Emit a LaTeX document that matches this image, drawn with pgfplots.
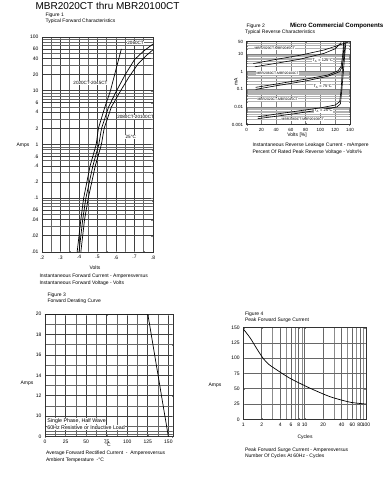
\documentclass[border=0pt]{standalone}
\usepackage{pgfplots}
\pgfplotsset{compat=1.18}
\usepackage{fontspec}
\setmainfont{Liberation Sans}
\newcommand{\fs}[1]{\fontsize{#1}{#1}\selectfont}
\pgfplotsset{
  myax/.style={
    scale only axis, anchor=north west,
    font=\fs{5},
    tick label style={font=\fs{5}},
    /pgf/number format/assume math mode=true,
    axis line style={black!80, line width=0.6pt},
    tick align=inside, major tick length=1.5pt, minor tick length=1pt,
    major grid style={draw=black!75, line width=0.7pt},
    minor grid style={draw=black!60, line width=0.55pt},
  },
}
\begin{document}
\begin{tikzpicture}
\path[use as bounding box] (0,0) rectangle (385pt,-488pt);
% title
\node[anchor=west, font=\fs{10}] at (32pt,-5.5pt) {MBR2020CT thru MBR20100CT};

% ---------------- Figure 1 ----------------
\node[anchor=west, font=\fs{5}] at (42pt,-15pt) {Figure 1};
\node[anchor=west, font=\fs{5}] at (42pt,-21.5pt) {Typical Forward Characteristics};
\node[font=\fs{5}] at (23pt,-145pt) {Amps};
\node[font=\fs{5}] at (95pt,-268pt) {Volts};
\node[anchor=west, font=\fs{5}] at (36pt,-276pt) {Instantaneous Forward Current - Amperesversus};
\node[anchor=west, font=\fs{5}] at (36pt,-283pt) {Instantaneous Forward Voltage - Volts};
\begin{axis}[myax, at={(42pt,-37pt)}, width=111pt, height=215pt,
  xmin=0.2, xmax=0.8, ymode=log, ymin=0.01, ymax=100,
  xtick={0.2,0.3,0.4,0.5,0.6,0.7,0.8}, xticklabels={.2,.3,.4,.5,.6,.7,.8},
  minor xtick={0.25,0.35,0.45,0.55,0.65,0.75},
  ytick={0.01,0.02,0.04,0.06,0.1,0.2,0.4,0.6,1,2,4,6,10,20,40,60,100},
  yticklabels={.01,.02,.04,.06,.1,.2,.4,.6,1,2,4,6,10,20,40,60,100},
  minor ytick={0.03,0.05,0.07,0.08,0.09,0.3,0.5,0.7,0.8,0.9,3,5,7,8,9,30,50,70,80,90},
  grid=both]
\addplot[black, line width=0.7pt] coordinates {(0.39,0.01)(0.41,0.04)(0.425,0.1)(0.46,0.4)(0.493,1)(0.505,2)(0.54,5)(0.57,10)(0.6,25)(0.629,60)};
\addplot[black, line width=0.7pt] coordinates {(0.40,0.01)(0.42,0.04)(0.437,0.1)(0.475,0.4)(0.507,1)(0.522,2)(0.56,5)(0.603,10)(0.65,20)(0.70,38)(0.75,55)(0.80,74)};
\addplot[black, line width=0.7pt] coordinates {(0.41,0.01)(0.43,0.04)(0.45,0.1)(0.488,0.4)(0.521,1)(0.536,2)(0.575,5)(0.625,10)(0.67,18)(0.72,32)(0.76,44)(0.80,58)};
\node[fill=white, inner sep=0.4pt, font=\fs{4.6}] at (axis cs:0.706,76) {2060CT};
\node[fill=white, inner sep=0.4pt, font=\fs{4.6}] at (axis cs:0.462,14) {2020CT-2045CT};
\node[fill=white, inner sep=0.4pt, font=\fs{4.6}] at (axis cs:0.706,3.2) {2080CT-20100CT};
\node[fill=white, inner sep=0.4pt, font=\fs{4.6}] at (axis cs:0.68,1.4) {25\textdegree C};
\end{axis}

% ---------------- Figure 2 ----------------
\node[anchor=west, font=\fs{5}] at (243pt,-26pt) {Figure 2};
\node[anchor=west, font=\fs{5}] at (241.5pt,-32.5pt) {Typical Reverse Characteristics};
\node[anchor=west, font=\fs{6.2}\bfseries] at (286.5pt,-26pt) {Micro Commercial Components};
\node[font=\fs{5}, rotate=90] at (236pt,-82pt) {mA};
\node[font=\fs{5}] at (297pt,-135pt) {Volts [\%]};
\node[anchor=west, font=\fs{5}] at (249pt,-145pt) {Instantaneous Reverse Leakage Current - mAmpere};
\node[anchor=west, font=\fs{5}] at (249pt,-152pt) {Percent Of Rated Peak Reverse Voltage - Volts\%};
\begin{axis}[myax, at={(246.7pt,-41.7pt)}, width=103.3pt, height=83pt,
  xmin=0, xmax=140, xtick={0,20,40,60,80,100,120,140},
  ymode=log, ymin=0.001, ymax=50,
  ytick={0.001,0.01,0.1,1,10,50}, yticklabels={0.001,0.01,0.1,1,10,50},
  minor ytick={0.002,0.003,0.004,0.005,0.006,0.007,0.008,0.009,0.02,0.03,0.04,0.05,0.06,0.07,0.08,0.09,0.2,0.3,0.4,0.5,0.6,0.7,0.8,0.9,2,3,4,5,6,7,8,9,20,30,40},
  tick label style={font=\fs{4.5}},
  xmajorgrids, ymajorgrids, yminorgrids,
  major grid style={draw=black!50, line width=0.6pt},
  minor grid style={draw=black!30, line width=0.8pt}]
\addplot[black, line width=0.6pt] coordinates {(9,2.9)(40,5)(72,8.5)(105,17)(138,48)};
\addplot[black, line width=0.6pt] coordinates {(11,1.9)(40,3)(72,5.1)(105,11)(120,20)(128,45)};
\addplot[black, line width=0.6pt] coordinates {(12,0.13)(40,0.2)(80,0.38)(110,0.65)(124,1.15)(128,2)(130,8)(131.5,50)};
\addplot[black, line width=0.6pt] coordinates {(12,0.1)(40,0.16)(80,0.3)(110,0.55)(126,1)(129.5,2)(132,8)(133.5,50)};
\addplot[black, line width=0.6pt] coordinates {(15,0.0028)(40,0.004)(70,0.006)(100,0.009)(120,0.013)(126,0.02)(128,0.1)(129.5,1)(131,10)(132,50)};
\addplot[black, line width=0.6pt] coordinates {(15,0.0022)(40,0.003)(70,0.0045)(100,0.007)(122,0.01)(127,0.015)(129,0.1)(131,1)(133,10)(134.5,50)};
\node[fill=white, inner sep=0.4pt, font=\fs{3.4}] at (axis cs:38,21) {MBR2020CT-MBR2045CT};
\node[fill=white, inner sep=0.4pt, font=\fs{3.4}] at (axis cs:42,0.85) {MBR2060CT-MBR20100CT};
\node[fill=white, inner sep=0.4pt, font=\fs{3.4}] at (axis cs:42,0.027) {MBR2020CT-MBR2045CT};
\node[fill=white, inner sep=0.4pt, font=\fs{3.4}] at (axis cs:76,0.0019) {MBR2060CT-MBR20100CT};
\node[fill=white, inner sep=0.4pt, font=\fs{4}] at (axis cs:103,4.5) {T$_\mathrm{A}$ = 125\textdegree C};
\node[fill=white, inner sep=0.4pt, font=\fs{4}] at (axis cs:103,0.15) {T$_\mathrm{A}$ = 75\textdegree C};
\node[fill=white, inner sep=0.4pt, font=\fs{4}] at (axis cs:104,0.006) {T$_\mathrm{A}$ = 25\textdegree C};
\end{axis}

% ---------------- Figure 3 ----------------
\node[anchor=west, font=\fs{5}] at (44pt,-295pt) {Figure 3};
\node[anchor=west, font=\fs{5}] at (44pt,-301.5pt) {Forward Derating Curve};
\node[font=\fs{5}] at (27pt,-383pt) {Amps};
\node[font=\fs{5}] at (108pt,-445pt) {\textdegree C};
\node[anchor=west, font=\fs{5}] at (42.5pt,-453.3pt) {Average Forward Rectified Current \ - \ Amperesversus};
\node[anchor=west, font=\fs{5}] at (42.5pt,-460pt) {Ambient Temperature \ -\textdegree C};
\begin{axis}[myax, at={(45pt,-314pt)}, width=128.3pt, height=122.7pt,
  xmin=0, xmax=156, ymin=8, ymax=20,
  xtick={0,25,50,75,100,125,150},
  minor xtick={12.5,37.5,62.5,87.5,112.5,137.5},
  ytick={8,10,12,14,16,18,20}, yticklabels={0,10,12,14,16,18,20},
  minor ytick={8.25,8.5,9,11,13,15,17,19},
  grid=both]
\addplot[black, line width=0.7pt] coordinates {(0,20)(125,20)(150,8)};
\node[anchor=west, fill=white, inner sep=0.5pt, font=\fs{5.3}] at (axis cs:2,9.57) {Single Phase, Half Wave};
\node[anchor=west, fill=white, inner sep=0.5pt, font=\fs{5.3}] at (axis cs:2,8.9) {60Hz Resistive or Inductive Load};
\end{axis}

% ---------------- Figure 4 ----------------
\node[anchor=west, font=\fs{5}] at (241.5pt,-314pt) {Figure 4};
\node[anchor=west, font=\fs{5}] at (241.5pt,-320.5pt) {Peak Forward Surge Current};
\node[font=\fs{5}] at (215pt,-385pt) {Amps};
\node[font=\fs{5}] at (305pt,-437pt) {Cycles};
\node[anchor=west, font=\fs{5}] at (241.5pt,-450pt) {Peak Forward Surge Current - Amperesversus};
\node[anchor=west, font=\fs{5}] at (241.5pt,-456.7pt) {Number Of Cycles At 60Hz - Cycles};
\begin{axis}[myax, at={(243.3pt,-327.7pt)}, width=122.7pt, height=91.6pt,
  xmode=log, xmin=1, xmax=100,
  xtick={1,2,4,6,8,10,20,40,60,80,100}, xticklabels={1,2,4,6,8,10,20,40,60,80,100},
  minor xtick={3,5,7,9,30,50,70,90},
  ymin=0, ymax=150, ytick={0,25,50,75,100,125,150},
  xmajorgrids, ymajorgrids, xminorgrids,
  major grid style={draw=black!60, line width=0.7pt},
  minor grid style={draw=black!45, line width=0.6pt}]
\addplot[black, line width=0.7pt, smooth, tension=0.4] coordinates {(1,148)(1.3,133)(1.65,116)(2.1,100)(2.6,90)(3.5,81)(5.8,67)(12.2,51)(26,37)(55,28)(100,25)};
\end{axis}
\end{tikzpicture}
\end{document}
